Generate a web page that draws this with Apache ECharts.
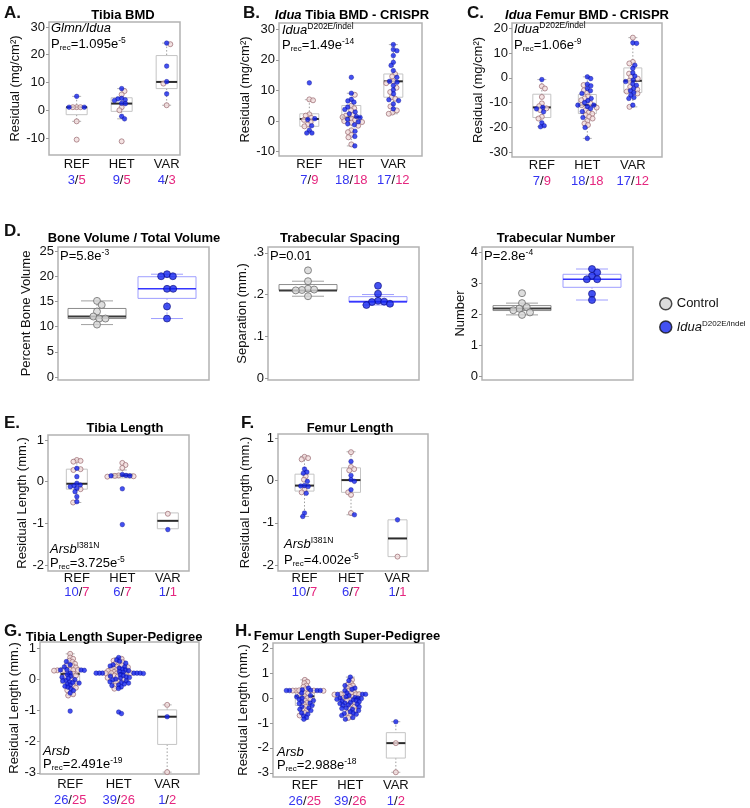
<!DOCTYPE html>
<html><head><meta charset="utf-8">
<script src="https://cdn.jsdelivr.net/npm/echarts@6/dist/echarts.min.js"></script>
<style>html,body{margin:0;padding:0;background:#fff}#c{width:750px;height:808px}</style>
</head><body><div id="c"></div>
<script>
// ---------------- DATA ----------------
const CATS = ['REF', 'HET', 'VAR'];

const A_ticks = [-10, 0, 10, 20, 30];
const A_counts = [[3, 5], [9, 5], [4, 3]];
const A_box = [[-4.0, -1.6, 1.1, 1.1, 5.0], [-3.1, -0.4, 2.4, 4.5, 7.8], [1.8, 7.8, 10.2, 19.7, 24.2]];
const A_blue = [[5.0, 1.1, 1.1], [7.8, 4.3, 4.1, 3.8, 3.5, 2.5, 2.4, -2.2, -3.1], [24.2, 15.9, 10.3, 5.9]];
const A_pink = [[1.1, 1.1, 1.1, -4.0, -10.6], [6.9, 5.7, 1.1, 0.0, -11.2], [23.8, 9.6, 1.8]];

const B_ticks = [-10, 0, 10, 20, 30];
const B_counts = [[7, 9], [18, 18], [17, 12]];
const B_box = [[-3.9, -1.7, 0.7, 2.4, 7.0], [-8.1, 0.0, 1.3, 5.1, 9.1], [2.4, 7.8, 13.0, 15.4, 25.0]];
const B_blue = [[12.5, 0.8, 0.5, -1.5, -3.0, -3.9, -3.9],
  [14.3, 9.1, 7.1, 6.6, 6.2, 4.6, 3.8, 3.0, 2.4, 1.5, 1.2, 0.6, -0.2, -0.9, -1.2, -3.3, -5.0, -8.1],
  [25.0, 23.4, 23.0, 21.4, 19.2, 18.2, 16.5, 14.3, 13.0, 12.7, 11.6, 10.2, 8.9, 7.0, 6.7, 5.6, 4.0]];
const B_pink = [[7.1, 6.8, 2.2, 1.8, 1.1, 0.4, -0.3, -1.1, -1.7],
  [8.6, 5.0, 4.2, 3.5, 2.0, 1.8, 1.3, 0.8, 0.3, 0.0, -0.3, -0.5, -1.5, -3.0, -3.6, -4.5, -5.3, -7.6],
  [15.4, 14.6, 13.0, 12.4, 10.9, 9.5, 7.8, 7.3, 4.8, 3.5, 2.8, 2.4]];

const C_ticks = [-30, -20, -10, 0, 10, 20];
const C_counts = [[7, 9], [18, 18], [17, 12]];
const C_box = [[-19.7, -16.0, -11.9, -6.6, -0.7], [-24.4, -14.4, -11.0, -6.7, 0.4], [-11.7, -5.9, -1.2, 4.0, 16.2]];
const C_blue = [[-0.7, -11.9, -12.5, -13.7, -18.1, -19.3, -19.7],
  [0.4, -0.3, -2.6, -3.2, -4.3, -5.2, -6.3, -8.3, -9.2, -10.0, -11.0, -11.0, -11.6, -12.4, -13.6, -16.0, -20.0, -24.4],
  [14.1, 13.9, 5.1, 3.8, 2.0, 0.7, -0.9, -1.5, -2.5, -3.0, -4.3, -5.2, -6.0, -7.0, -7.9, -8.3, -11.0]];
const C_pink = [[-3.4, -4.3, -7.7, -10.3, -11.4, -12.3, -13.0, -15.7, -16.4],
  [-2.9, -5.0, -6.0, -7.5, -8.3, -9.0, -10.3, -11.0, -12.0, -13.0, -14.0, -14.5, -15.0, -15.7, -16.4, -17.4, -18.4, -19.0],
  [16.2, 6.4, 5.8, 1.7, 0.4, -0.3, -1.2, -3.6, -4.7, -5.5, -6.3, -11.7]];

const D1_ticks = [0, 5, 10, 15, 20, 25];
const D1_box = [[10.4, 11.6, 12.0, 13.6, 15.1], [11.6, 15.6, 17.5, 19.9, 20.4]];
const D1_ctrl = [15.1, 14.3, 13.0, 12.0, 11.6, 11.6, 10.4];
const D1_idua = [20.4, 20.0, 20.0, 17.5, 17.5, 14.0, 11.6];

const D2_ticks = [0, 0.1, 0.2, 0.3];
const D2_box = [[0.196, 0.21, 0.21, 0.224, 0.232], [0.175, 0.182, 0.183, 0.195, 0.2]];
const D2_ctrl = [0.258, 0.232, 0.214, 0.212, 0.211, 0.21, 0.196];
const D2_idua = [0.221, 0.202, 0.185, 0.183, 0.182, 0.178, 0.175];

const D3_ticks = [0, 1, 2, 3, 4];
const D3_box = [[1.97, 2.11, 2.18, 2.27, 2.35], [2.45, 2.86, 3.12, 3.28, 3.45]];
const D3_ctrl = [2.67, 2.35, 2.22, 2.17, 2.12, 2.05, 1.97];
const D3_idua = [3.45, 3.34, 3.23, 3.12, 3.12, 2.65, 2.45];

const E_ticks = [-2, -1, 0, 1];
const E_counts = [[10, 7], [6, 7], [1, 1]];
const E_box = [[-0.5, -0.18, -0.05, 0.3, 0.53], [0.09, 0.09, 0.15, 0.19, 0.28], [-1.13, -1.13, -0.94, -0.75, -0.75]];
const E_blue = [[0.32, 0.12, -0.04, -0.08, -0.1, -0.12, -0.16, -0.24, -0.36, -0.48], [0.17, 0.15, 0.14, 0.14, -0.17, -1.03], [-1.15]];
const E_pink = [[0.52, 0.5, 0.48, 0.3, 0.28, -0.18, -0.5], [0.45, 0.4, 0.33, 0.15, 0.14, 0.13, 0.12], [-0.77]];

const F_ticks = [-2, -1, 0, 1];
const F_counts = [[10, 7], [6, 7], [1, 1]];
const F_box = [[-0.85, -0.25, -0.12, 0.15, 0.57], [-0.81, -0.28, 0.01, 0.3, 0.68], [-1.8, -1.8, -1.37, -0.93, -0.93]];
const F_blue = [[0.27, 0.2, 0.17, -0.02, -0.12, -0.13, -0.14, -0.3, -0.77, -0.85], [0.45, 0.12, 0.02, -0.02, -0.22, -0.81], [-0.93]];
const F_pink = [[0.56, 0.53, 0.5, 0.1, 0.02, -0.22, -0.28], [0.67, 0.32, 0.27, 0.24, -0.28, -0.34, -0.77], [-1.8]];

const G_ticks = [-3, -2, -1, 0, 1];
const G_counts = [[26, 25], [39, 26], [1, 2]];
const G_box = [[-0.52, -0.13, 0.17, 0.38, 0.82], [-0.3, -0.05, 0.2, 0.38, 0.7], [-2.98, -2.09, -1.2, -0.98, -0.82]];
const G_blue = [[0.57, 0.47, 0.4, 0.31, 0.3, 0.3, 0.29, 0.2, 0.16, 0.1, 0.07, -0.01, -0.03, -0.05, -0.08, -0.12, -0.15, -0.18, -0.22, -0.25, -0.3, -0.36, -0.44, -0.1, 0.04, -1.02],
  [0.7, 0.62, 0.58, 0.52, 0.47, 0.43, 0.4, 0.36, 0.33, 0.3, 0.28, 0.25, 0.23, 0.2, 0.2, 0.2, 0.2, 0.2, 0.2, 0.19, 0.15, 0.12, 0.1, 0.08, 0.06, 0.04, 0.01, -0.02, -0.05, -0.08, -0.1, -0.12, -0.15, -0.18, -0.2, -0.24, -0.29, -1.05, -1.1],
  [-1.2]];
const G_pink = [[0.82, 0.7, 0.66, 0.6, 0.56, 0.5, 0.46, 0.42, 0.38, 0.31, 0.3, 0.3, 0.3, 0.29, 0.28, 0.18, 0.12, 0.08, 0.0, -0.12, -0.2, -0.27, -0.35, -0.48, -0.52],
  [0.66, 0.6, 0.55, 0.52, 0.48, 0.45, 0.41, 0.39, 0.35, 0.32, 0.3, 0.27, 0.24, 0.2, 0.2, 0.2, 0.2, 0.19, 0.12, 0.09, 0.05, 0.0, -0.05, -0.1, -0.2, -0.3],
  [-0.82, -2.98]];

const H_ticks = [-3, -2, -1, 0, 1, 2];
const H_counts = [[26, 25], [39, 26], [1, 2]];
const H_box = [[-0.85, -0.3, 0.07, 0.3, 0.73], [-0.85, -0.35, 0.0, 0.25, 0.84], [-2.98, -2.41, -1.81, -1.39, -0.95]];
const H_blue = [[0.4, 0.33, 0.3, 0.3, 0.3, 0.3, 0.31, 0.2, 0.1, 0.05, -0.05, -0.1, -0.15, -0.2, -0.22, -0.3, -0.35, -0.4, -0.45, -0.5, -0.6, -0.65, -0.72, -0.78, -0.85, 0.0],
  [0.84, 0.7, 0.5, 0.4, 0.35, 0.3, 0.2, 0.15, 0.15, 0.15, 0.1, 0.05, 0.02, 0.0, 0.0, -0.02, -0.05, -0.08, -0.1, -0.12, -0.15, -0.18, -0.2, -0.22, -0.25, -0.28, -0.3, -0.35, -0.4, -0.42, -0.45, -0.5, -0.55, -0.6, -0.62, -0.65, -0.7, -0.78, -0.85],
  [-0.95]];
const H_pink = [[0.73, 0.65, 0.6, 0.5, 0.45, 0.35, 0.3, 0.3, 0.3, 0.31, 0.2, 0.18, 0.1, 0.07, 0.0, -0.05, -0.1, -0.2, -0.25, -0.35, -0.45, -0.5, -0.6, -0.7, 0.29],
  [0.73, 0.6, 0.55, 0.5, 0.45, 0.4, 0.3, 0.25, 0.2, 0.15, 0.15, 0.15, 0.15, 0.14, 0.05, 0.0, -0.05, -0.1, -0.2, -0.3, -0.35, -0.4, -0.5, -0.6, -0.7, -0.8],
  [-1.81, -2.98]];

// ---------------- LAYOUT ----------------
const FF = '"Liberation Sans", Arial, Helvetica, sans-serif';
const TXT = '#111';
const BLUE_T = '#3434f2', PINK_T = '#e5267f';
const NAME_BMD = 'Residual (mg/cm\u00b2)', NAME_LEN = 'Residual Length (mm.)';

const PANELS = [
  { frame: [49, 22, 180, 155], yr: [-16.13, 31.8], xc: [78, 119, 168], gap: 22, name: NAME_BMD, ticks: A_ticks, counts: A_counts, box: A_box, blue: A_blue, pink: A_pink, bw: 21, lm: 1, lh: 16, sd: 3.8 },
  { frame: [279, 23, 422, 156], yr: [-11.4, 32.06], xc: [308, 354, 392], gap: 19.5, name: NAME_BMD, ticks: B_ticks, counts: B_counts, box: B_box, blue: B_blue, pink: B_pink, bw: 19, lm: 0, lh: 16, sd: 3.8 },
  { frame: [512, 23, 662, 157], yr: [-31.9, 22.1], xc: [542, 587, 633], gap: 25.5, name: NAME_BMD, ticks: C_ticks, counts: C_counts, box: C_box, blue: C_blue, pink: C_pink, bw: 18, lm: 0, lh: 16, sd: 3.8 },
  { frame: [58, 247, 209, 380], yr: [-0.6, 25.8], xc: [97, 167], gap: 25.5, name: 'Percent Bone Volume', ticks: D1_ticks, box: D1_box, ctrl: D1_ctrl, idua: D1_idua, d: true },
  { frame: [268, 247, 419, 380], yr: [-0.0048, 0.314], xc: [308, 378], gap: 18.5, name: 'Separation (mm.)', ticks: D2_ticks, box: D2_box, ctrl: D2_ctrl, idua: D2_idua, d: true, fmt: v => v === 0 ? '0' : String(v).replace(/^0/, '') },
  { frame: [482, 247, 633, 380], yr: [-0.13, 4.16], xc: [522, 592], gap: 15.5, name: 'Number', ticks: D3_ticks, box: D3_box, ctrl: D3_ctrl, idua: D3_idua, d: true },
  { frame: [48, 435, 189, 571], yr: [-2.144, 1.12], xc: [77, 122, 168], gap: 19.5, name: NAME_LEN, ticks: E_ticks, counts: E_counts, box: E_box, blue: E_blue, pink: E_pink, bw: 21, lm: 0, lh: 14, sd: 3.8 },
  { frame: [278, 434, 428, 571], yr: [-2.14, 1.10], xc: [305, 350, 398], gap: 26.5, name: NAME_LEN, ticks: F_ticks, counts: F_counts, box: F_box, blue: F_blue, pink: F_pink, bw: 19, lm: 0, lh: 14, sd: 3.8 },
  { frame: [40, 642, 199, 774], yr: [-3.04, 1.2], xc: [71, 117, 168], gap: 18.5, name: NAME_LEN, ticks: G_ticks, counts: G_counts, box: G_box, blue: G_blue, pink: G_pink, bw: 19, lm: 2, lh: 16, sd: 3.2 },
  { frame: [273, 643, 424, 777], yr: [-3.17, 2.21], xc: [305, 350, 396], gap: 23.5, name: NAME_LEN, ticks: H_ticks, counts: H_counts, box: H_box, blue: H_blue, pink: H_pink, bw: 19, lm: 0, lh: 16, sd: 3.2 }
];

function xRange(L, R, xc) {
  const n = xc.length; let km = 0, pm = 0;
  xc.forEach((p, i) => { km += i + 1; pm += p; }); km /= n; pm /= n;
  let num = 0, den = 0;
  xc.forEach((p, i) => { num += (i + 1 - km) * (p - pm); den += (i + 1 - km) * (i + 1 - km); });
  const b = num / den, a = pm - b * km;
  return [(L - a) / b, (R - a) / b];
}

// beeswarm layout: offsets in px so that circles of diameter d don't overlap
function swarm(vals, ppu, d) {
  const idx = vals.map((v, i) => i).sort((a, b) => vals[b] - vals[a]);
  const placed = []; const off = new Array(vals.length).fill(0);
  let flip = 1;
  idx.forEach(i => {
    const y = vals[i] * ppu;
    const near = placed.filter(q => Math.abs(q.y - y) < d);
    const cands = [0];
    near.forEach(q => { const dx = Math.sqrt(d * d - (q.y - y) * (q.y - y)); cands.push(q.x + dx, q.x - dx); });
    const ok = c => near.every(q => (q.x - c) * (q.x - c) + (q.y - y) * (q.y - y) >= d * d - 1e-6);
    let best = null;
    cands.forEach(c => {
      if (!ok(c)) return;
      if (best === null || Math.abs(c) < Math.abs(best) - 1e-9 ||
        (Math.abs(Math.abs(c) - Math.abs(best)) < 1e-9 && c * flip > 0)) best = c;
    });
    if (best === null) best = 0;
    if (best !== 0) flip = -flip;
    placed.push({ x: best, y }); off[i] = best;
  });
  return off;
}

const GRAY_BOX = { box: '#c4c4c4', med: '#2b2b2b', medW: 2, whisk: '#9c9c9c', cap: '#b4b4b4', cw: 9 };
const D_CTRL = { box: '#8c8c8c', med: '#3a3a3a', medW: 2, whisk: '#a0a0a0', cap: '#a0a0a0', cw: 32, bw: 58 };
const D_IDUA = { box: '#9e9eff', med: '#3535ff', medW: 1.6, whisk: '#9e9eff', cap: '#9e9eff', cw: 32, bw: 58 };

function boxRender(styles) {
  return function (params, api) {
    const k = api.value(0);
    const s = styles[params.dataIndex] || styles[0];
    const c = v => api.coord([k, v]);
    const pl = c(api.value(1)), p1 = c(api.value(2)), pm = c(api.value(3)), p3 = c(api.value(4)), ph = c(api.value(5));
    const x = pm[0];
    const ln = (x1, y1, x2, y2, stroke, w, dash) => ({ type: 'line', shape: { x1, y1, x2, y2 }, style: { stroke, lineWidth: w, lineDash: dash || null } });
    const ch = [];
    if (ph[1] < p3[1] - 0.5) {
      ch.push(ln(x, ph[1], x, p3[1], s.whisk, 1, [1.5, 2]));
      ch.push(ln(x - s.cw / 2, ph[1], x + s.cw / 2, ph[1], s.cap, 1));
    }
    if (pl[1] > p1[1] + 0.5) {
      ch.push(ln(x, p1[1], x, pl[1], s.whisk, 1, [1.5, 2]));
      ch.push(ln(x - s.cw / 2, pl[1], x + s.cw / 2, pl[1], s.cap, 1));
    }
    ch.push({ type: 'rect', shape: { x: x - s.bw / 2, y: p3[1], width: s.bw, height: p1[1] - p3[1] }, style: { fill: 'transparent', stroke: s.box, lineWidth: 1 } });
    ch.push(ln(x - s.bw / 2, pm[1], x + s.bw / 2, pm[1], s.med, s.medW));
    return { type: 'group', children: ch };
  };
}

const PINK_STYLE = { color: '#f1dcdc', borderColor: '#a2777d', borderWidth: 1 };
const BLUE_STYLE = { color: '#1426ee', borderColor: '#0c0c8c', borderWidth: 0.5 };
const CTRL_STYLE = { color: '#d6d6d6', borderColor: '#6e6e6e', borderWidth: 1 };
const IDUA_STYLE = { color: '#1426ee', borderColor: '#0c0c7a', borderWidth: 0.8 };

const grids = [], xAxes = [], yAxes = [], series = [];
PANELS.forEach((p, gi) => {
  const [L, T, R, B] = p.frame;
  grids.push({ left: L, top: T, width: R - L, height: B - T, show: true, borderColor: '#b2b2b2', borderWidth: 1.5, backgroundColor: 'transparent' });
  const xr = xRange(L, R, p.xc);
  const ncat = p.xc.length;
  xAxes.push({
    gridIndex: gi, type: 'value', min: xr[0], max: xr[1],
    axisLine: { show: false }, axisTick: { show: false }, splitLine: { show: false },
    axisLabel: p.d ? { show: false } : {
      customValues: CATS.map((c, i) => i + 1), margin: p.lm,
      formatter: v => { const i = Math.round(v) - 1; const c = p.counts[i]; return '{n|' + CATS[i] + '}\n{b|' + c[0] + '}{s|/}{p|' + c[1] + '}'; },
      rich: {
        n: { fontSize: 13, fontFamily: FF, color: TXT, lineHeight: p.lh },
        b: { fontSize: 13, fontFamily: FF, color: BLUE_T, lineHeight: p.lh },
        s: { fontSize: 13, fontFamily: FF, color: TXT, lineHeight: p.lh },
        p: { fontSize: 13, fontFamily: FF, color: PINK_T, lineHeight: p.lh }
      }
    }
  });
  yAxes.push({
    gridIndex: gi, type: 'value', min: p.yr[0], max: p.yr[1],
    name: p.name, nameLocation: 'middle', nameGap: p.gap, nameRotate: 90,
    nameTextStyle: { fontSize: 13, fontFamily: FF, color: TXT },
    axisLine: { show: false }, splitLine: { show: false },
    axisTick: { show: true, length: 3, customValues: p.ticks, lineStyle: { color: '#999' } },
    axisLabel: { customValues: p.ticks, fontSize: 13, fontFamily: FF, color: TXT, margin: 4, formatter: p.fmt || (v => String(v)) }
  });
  const ppu = (B - T) / (p.yr[1] - p.yr[0]);
  const styles = p.d ? [D_CTRL, D_IDUA] : [Object.assign({ bw: p.bw }, GRAY_BOX)];
  series.push({
    type: 'custom', xAxisIndex: gi, yAxisIndex: gi, silent: true, z: 1,
    renderItem: boxRender(styles),
    encode: { x: 0, y: [1, 2, 3, 4, 5] },
    data: p.box.map((b, i) => [i + 1].concat(b))
  });
  if (p.d) {
    [[p.ctrl, 'Control', CTRL_STYLE], [p.idua, 'Idua', IDUA_STYLE]].forEach(([vals, nm, st], i) => {
      const offs = swarm(vals, ppu, 6.2);
      series.push({
        type: 'scatter', name: nm, xAxisIndex: gi, yAxisIndex: gi, silent: true, z: 3,
        symbol: 'circle', symbolSize: 7, itemStyle: st,
        data: vals.map((v, j) => ({ value: [i + 1, v], symbolOffset: [offs[j], 0] }))
      });
    });
  } else {
    const pinkData = [], blueData = [];
    for (let k = 0; k < ncat; k++) {
      const all = p.pink[k].map(v => ({ v, c: 'p' })).concat(p.blue[k].map(v => ({ v, c: 'b' })));
      const offs = swarm(all.map(o => o.v), ppu, p.sd);
      all.forEach((o, j) => {
        const item = { value: [k + 1, o.v], symbolOffset: [offs[j], 0] };
        (o.c === 'p' ? pinkData : blueData).push(item);
      });
    }
    series.push({ type: 'scatter', xAxisIndex: gi, yAxisIndex: gi, silent: true, z: 3, symbol: 'circle', symbolSize: 5, itemStyle: PINK_STYLE, data: pinkData });
    series.push({ type: 'scatter', xAxisIndex: gi, yAxisIndex: gi, silent: true, z: 4, symbol: 'circle', symbolSize: 4.6, itemStyle: BLUE_STYLE, data: blueData });
  }
});

// ---------------- TEXT ----------------
const RICH = {
  t: { fontSize: 13, fontFamily: FF, color: TXT, lineHeight: 15 },
  it: { fontSize: 13, fontFamily: FF, fontStyle: 'italic', color: TXT, lineHeight: 15 },
  sub: { fontSize: 8, fontFamily: FF, color: TXT, verticalAlign: 'bottom', lineHeight: 9 },
  sup: { fontSize: 8.5, fontFamily: FF, color: TXT, verticalAlign: 'top', lineHeight: 9 },
  b: { fontSize: 13, fontFamily: FF, fontWeight: 'bold', color: TXT },
  bi: { fontSize: 13, fontFamily: FF, fontWeight: 'bold', fontStyle: 'italic', color: TXT }
};
const LETTERS = [['A.', 4, 13], ['B.', 243, 13], ['C.', 467, 13], ['D.', 4, 231], ['E.', 4, 423], ['F.', 241, 423], ['G.', 4, 631], ['H.', 235, 631]];
const TITLES = [
  ['{b|Tibia BMD}', 123, 15], ['{bi|Idua}{b| Tibia BMD - CRISPR}', 352, 15], ['{bi|Idua}{b| Femur BMD - CRISPR}', 587, 15],
  ['{b|Bone Volume / Total Volume}', 134, 238], ['{b|Trabecular Spacing}', 340, 238], ['{b|Trabecular Number}', 556, 238],
  ['{b|Tibia Length}', 125, 428], ['{b|Femur Length}', 350, 428],
  ['{b|Tibia Length Super-Pedigree}', 114, 637], ['{b|Femur Length Super-Pedigree}', 347, 636]
];
const NOTES = [
  ['{it|Glmn/Idua}', 51, 28], ['{t|P}{sub|rec}{t|=1.095e}{sup|-5}', 51, 44],
  ['{it|Idua}{sup|D202E/indel}', 282, 30], ['{t|P}{sub|rec}{t|=1.49e}{sup|-14}', 282, 45],
  ['{it|Idua}{sup|D202E/indel}', 514, 29], ['{t|P}{sub|rec}{t|=1.06e}{sup|-9}', 514, 45],
  ['{t|P=5.8e}{sup|-3}', 60, 256], ['{t|P=0.01}', 270, 256], ['{t|P=2.8e}{sup|-4}', 484, 256],
  ['{it|Arsb}{sup|I381N}', 50, 549], ['{t|P}{sub|rec}{t|=3.725e}{sup|-5}', 50, 563],
  ['{it|Arsb}{sup|I381N}', 284, 544], ['{t|P}{sub|rec}{t|=4.002e}{sup|-5}', 284, 560],
  ['{it|Arsb}', 43, 751], ['{t|P}{sub|rec}{t|=2.491e}{sup|-19}', 43, 764],
  ['{it|Arsb}', 277, 752], ['{t|P}{sub|rec}{t|=2.988e}{sup|-18}', 277, 765]
];
const graphic = [];
LETTERS.forEach(([t, x, y]) => graphic.push({ type: 'text', x, y, silent: true, style: { text: t, fontSize: 17, fontWeight: 'bold', fontFamily: FF, fill: TXT, verticalAlign: 'middle' } }));
TITLES.forEach(([t, x, y]) => graphic.push({ type: 'text', x, y, silent: true, style: { text: t, rich: RICH, align: 'center', verticalAlign: 'middle', fontSize: 13, fontFamily: FF } }));
NOTES.forEach(([t, x, y]) => graphic.push({ type: 'text', x, y, silent: true, z: 10, style: { text: t, rich: RICH, align: 'left', verticalAlign: 'middle', fontSize: 13, fontFamily: FF } }));

const chart = echarts.init(document.getElementById('c'), null, { renderer: 'canvas' });
chart.setOption({
  animation: false,
  backgroundColor: '#fff',
  grid: grids, xAxis: xAxes, yAxis: yAxes, series: series, graphic: graphic,
  legend: {
    orient: 'vertical', left: 654, top: 292, itemWidth: 12, itemHeight: 12, itemGap: 9, icon: 'circle', selectedMode: false,
    data: [
      { name: 'Control', itemStyle: { color: '#d4d4d4', borderColor: '#1e1e1e', borderWidth: 1.5 } },
      { name: 'Idua', itemStyle: { color: '#1426ee', borderColor: '#111', borderWidth: 1.5 } }
    ],
    formatter: n => n === 'Control' ? '{t|Control}' : '{it|Idua}{sup|D202E/indel}',
    textStyle: { rich: { t: { fontSize: 13, fontFamily: FF, color: TXT, lineHeight: 15 }, it: { fontSize: 13, fontFamily: FF, fontStyle: 'italic', color: TXT, lineHeight: 15 }, sup: { fontSize: 8, fontFamily: FF, color: TXT, verticalAlign: 'top', lineHeight: 9 } } }
  }
});
</script></body></html>
